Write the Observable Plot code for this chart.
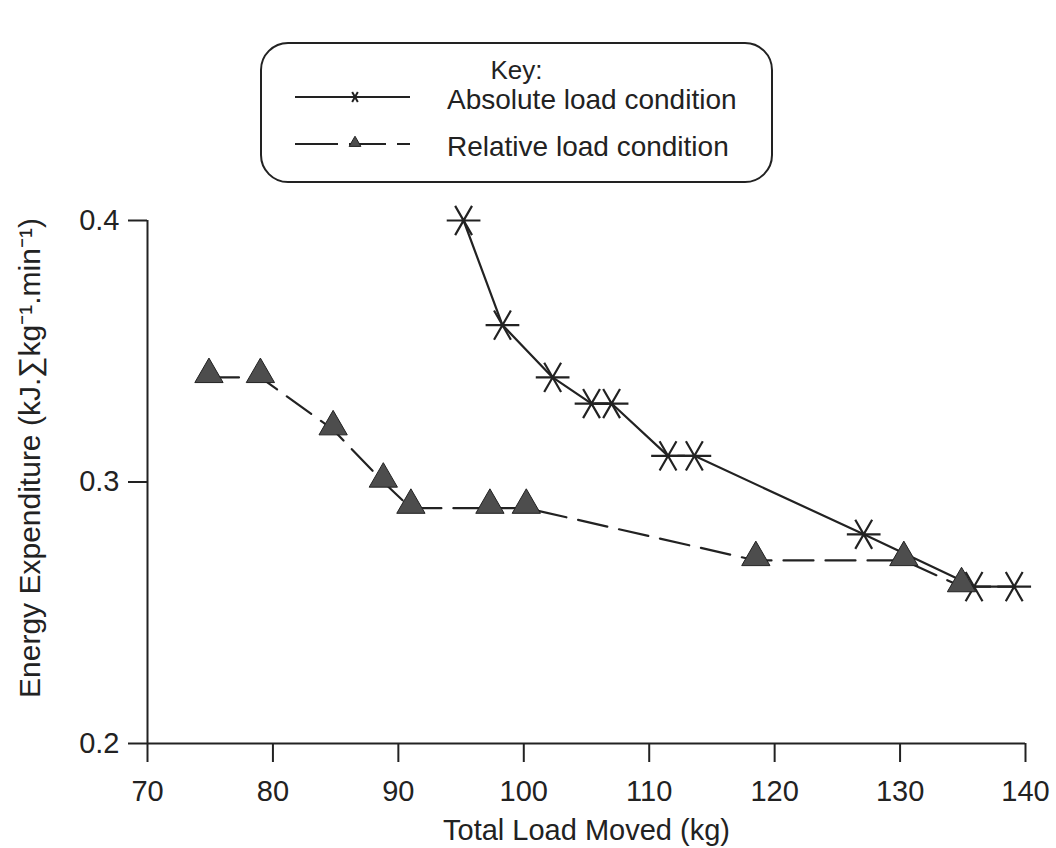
<!DOCTYPE html>
<html>
<head>
<meta charset="utf-8">
<script src="https://cdn.jsdelivr.net/npm/d3@7"></script>
<script src="https://cdn.jsdelivr.net/npm/@observablehq/plot@0.6"></script>
<style>
  body { margin: 0; background: #fff; }
  #wrap { position: relative; width: 1056px; height: 848px; font-family: 'Liberation Sans', Arial, sans-serif; color: #222; }
  #legend { position: absolute; left: 260px; top: 42px; width: 509px; height: 137px; border: 2px solid #222; border-radius: 28px; box-sizing: content-box; }
  #legend .t { position: absolute; white-space: nowrap; font-size: 27px; line-height: 1; }
  #legend svg { position: absolute; }
  #chart { position: absolute; left: 0; top: 195px; }
</style>
</head>
<body>
<div id="wrap">
  <div id="legend"></div>
  <div id="chart"></div>
</div>
<script>
// ---- data ----
const absoluteLoad = [95.2, 98.3, 102.3, 105.4, 107.0, 111.5, 113.6, 127.1, 135.9, 139.1];
const absoluteEnergy = [0.40, 0.36, 0.34, 0.33, 0.33, 0.31, 0.31, 0.28, 0.26, 0.26];
const relativeLoad = [74.9, 79.0, 84.8, 88.8, 91.0, 97.3, 100.2, 118.5, 130.3, 134.9];
const relativeEnergy = [0.34, 0.34, 0.32, 0.30, 0.29, 0.29, 0.29, 0.27, 0.27, 0.26];
const xTicks = [70, 80, 90, 100, 110, 120, 130, 140];
const yTicks = [0.2, 0.3, 0.4];
const seriesNames = ["Absolute load condition", "Relative load condition"];
const legendTitle = "Key:";
const xTitle = "Total Load Moved (kg)";
const yTitle = "Energy Expenditure (kJ.\u2211kg\u207B\u00B9.min\u207B\u00B9)";

const absData = absoluteLoad.map((x, i) => ({x, y: absoluteEnergy[i]}));
const relData = relativeLoad.map((x, i) => ({x, y: relativeEnergy[i]}));

const ink = "#222";

const chart = Plot.plot({
  width: 1056,
  height: 653,
  marginLeft: 147,
  marginRight: 31,
  marginTop: 25,
  marginBottom: 105,
  x: {domain: [70, 140]},
  y: {domain: [0.2, 0.4]},
  style: {fontFamily: "'Liberation Sans', Arial, sans-serif", fontSize: "29px", color: ink, background: "#fff", overflow: "visible"},
  marks: [
    Plot.axisX(xTicks, {tickSize: 19, tickPadding: 18, strokeWidth: 2, stroke: ink, fill: ink, fontSize: 29, label: null, tickFormat: d => String(d)}),
    Plot.axisY(yTicks, {tickSize: 19, tickPadding: 9, strokeWidth: 2, stroke: ink, fill: ink, fontSize: 29, label: null, tickFormat: d => d.toFixed(1)}),
    Plot.ruleX([70], {stroke: ink, strokeWidth: 2}),
    Plot.ruleY([0.2], {stroke: ink, strokeWidth: 2}),
    Plot.line(relData, {x: "x", y: "y", stroke: ink, strokeWidth: 2.2, strokeDasharray: "30,12"}),
    Plot.line(absData, {x: "x", y: "y", stroke: ink, strokeWidth: 2.2}),
    Plot.dot(absData, {x: "x", y: "y", symbol: "asterisk", rotate: 90, r: 16, stroke: ink, strokeWidth: 2.2}),
    Plot.dot(relData, {x: "x", y: "y", symbol: "triangle", r: 10.5, fill: "#4d4d4d", stroke: ink, strokeWidth: 1, dy: -3}),
    Plot.text([yTitle], {text: d => d, frameAnchor: "left", textAnchor: "middle", rotate: -90, dx: -117, dy: -24, fontSize: 30, fill: ink}),
    Plot.text([xTitle], {text: d => d, frameAnchor: "bottom", textAnchor: "middle", dy: 96, fontSize: 29, fill: ink})
  ]
});
document.getElementById("chart").appendChild(chart);

// ---- legend (HTML box) ----
const legend = d3.select("#legend");
legend.append("div").attr("class", "t").text(legendTitle)
  .style("left", "0").style("width", "509px").style("text-align", "center").style("top", "13px").style("font-size", "26px");

const rows = [
  {name: seriesNames[0], cy: 55, kind: "abs"},
  {name: seriesNames[1], cy: 102, kind: "rel"}
];
rows.forEach(row => {
  const svg = legend.append("svg").attr("width", 130).attr("height", 30)
    .style("left", "28px").style("top", (row.cy - 17) + "px");
  const line = svg.append("line").attr("x1", 5).attr("x2", 120).attr("y1", 15).attr("y2", 15)
    .attr("stroke", ink).attr("stroke-width", 2);
  if (row.kind === "abs") {
    svg.append("path").attr("d", d3.symbol(d3.symbolAsterisk, 90)())
      .attr("transform", "translate(65,15) rotate(90)").attr("stroke", ink).attr("stroke-width", 2).attr("fill", "none");
  } else {
    line.attr("stroke-dasharray", "43,11,37,11,20");
    svg.append("path").attr("d", d3.symbol(d3.symbolTriangle, 60)())
      .attr("transform", "translate(65,14)").attr("fill", "#4d4d4d").attr("stroke", ink).attr("stroke-width", 1);
  }
  legend.append("div").attr("class", "t").text(row.name)
    .style("left", "185px").style("top", (row.cy - 13) + "px").style("font-size", "28px");
});
</script>
</body>
</html>
